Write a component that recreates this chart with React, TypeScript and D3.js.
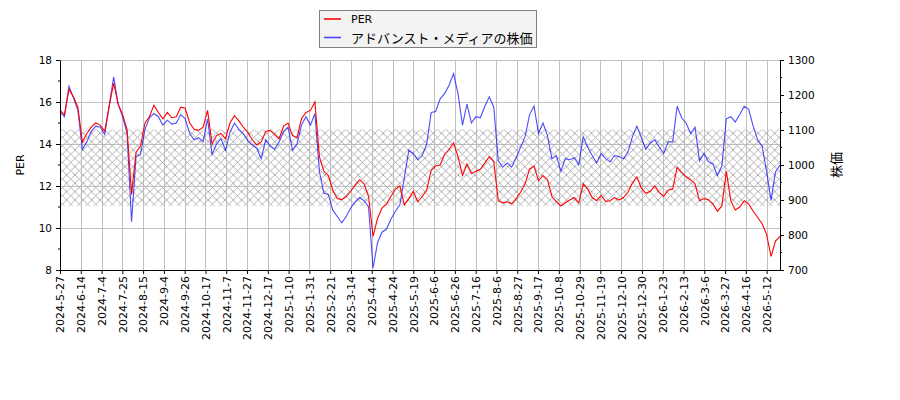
import React, { useEffect, useRef } from 'react';
import * as d3 from 'd3';

// PER, sampled about every 3 trading days
const perValues = [
  15.6, 15.4, 16.6, 16.25, 15.75, 14.1, 14.5, 14.8, 15.0, 14.9,
  14.6, 15.8, 16.9, 15.9, 15.4, 14.7, 11.6, 13.6, 13.9, 15.0,
  15.3, 15.85, 15.5, 15.2, 15.5, 15.25, 15.3, 15.75, 15.7, 15.0,
  14.7, 14.65, 14.8, 15.6, 14.0, 14.4, 14.5, 14.25, 15.0, 15.35,
  15.1, 14.8, 14.55, 14.2, 13.95, 14.1, 14.6, 14.65, 14.45, 14.25,
  14.85, 15.0, 14.4, 14.3, 15.2, 15.5, 15.6, 16.0, 13.4, 12.7,
  12.5, 11.8, 11.4, 11.35, 11.5, 11.75, 12.05, 12.3, 12.1, 11.5,
  9.6, 10.45, 10.95, 11.15, 11.5, 11.85, 12.0, 11.1, 11.4, 11.75,
  11.25, 11.5, 11.8, 12.75, 12.95, 13.0, 13.5, 13.75, 14.05, 13.4,
  12.5, 13.05, 12.6, 12.7, 12.8, 13.1, 13.4, 13.15, 11.3, 11.2,
  11.25, 11.15, 11.4, 11.7, 12.1, 12.8, 12.95, 12.25, 12.5, 12.3,
  11.5, 11.25, 11.05, 11.2, 11.33, 11.45, 11.2, 12.1, 11.85, 11.45,
  11.3, 11.55, 11.27, 11.3, 11.45, 11.33, 11.45, 11.7, 12.15, 12.44,
  11.9, 11.65, 11.75, 12.0, 11.7, 11.5, 11.8, 11.85, 12.9, 12.65,
  12.45, 12.3, 12.1, 11.3, 11.4, 11.35, 11.15, 10.8, 11.05, 12.7,
  11.3, 10.86, 11.0, 11.3, 11.15, 10.8, 10.5, 10.2, 9.7, 8.65,
  9.38, 9.6,
];

// share price (yen), same sampling
const priceValues = [
  1152, 1138, 1225, 1192, 1156, 1045, 1066, 1096, 1111, 1108,
  1087, 1168, 1252, 1174, 1138, 1090, 838, 1024, 1030, 1102,
  1135, 1147, 1138, 1114, 1128, 1117, 1120, 1144, 1132, 1090,
  1072, 1078, 1066, 1132, 1030, 1060, 1075, 1042, 1093, 1120,
  1102, 1090, 1069, 1057, 1048, 1018, 1072, 1054, 1045, 1066,
  1096, 1108, 1042, 1060, 1114, 1138, 1114, 1147, 982, 919,
  916, 871, 853, 835, 853, 877, 895, 907, 898, 880,
  705, 778, 808, 817, 845, 868, 886, 964, 1042, 1033,
  1015, 1027, 1060, 1150, 1153, 1189, 1204, 1228, 1261, 1204,
  1114, 1174, 1120, 1138, 1135, 1168, 1195, 1165, 1012, 994,
  1006, 994, 1021, 1051, 1081, 1144, 1168, 1090, 1120, 1084,
  1018, 1027, 982, 1018, 1015, 1021, 1000, 1081, 1051, 1027,
  1006, 1033, 1018, 1009, 1027, 1024, 1018, 1037, 1081, 1111,
  1078, 1045, 1063, 1072, 1051, 1033, 1066, 1066, 1168, 1135,
  1120, 1090, 1108, 1012, 1033, 1009, 1003, 970, 997, 1132,
  1138, 1123, 1144, 1168, 1159, 1111, 1072, 1054, 982, 898,
  981, 1000,
];

// one label every 14 trading days
const tickLabels = [
  '2024-5-27', '2024-6-14', '2024-7-4', '2024-7-25', '2024-8-15', '2024-9-4',
  '2024-9-26', '2024-10-17', '2024-11-7', '2024-11-27', '2024-12-17',
  '2025-1-10', '2025-1-31', '2025-2-21', '2025-3-14', '2025-4-4', '2025-4-24',
  '2025-5-19', '2025-6-6', '2025-6-26', '2025-7-16', '2025-8-6', '2025-8-27',
  '2025-9-17', '2025-10-8', '2025-10-29', '2025-11-19', '2025-12-10',
  '2025-12-30', '2026-1-23', '2026-2-13', '2026-3-6', '2026-3-27',
  '2026-4-16', '2026-5-12',
];

const perTicks = [8, 10, 12, 14, 16, 18];
const priceTicks = [700, 800, 900, 1000, 1100, 1200, 1300];
const perBand = [11.05, 14.7];

const TRADING_DAYS = 486;
const TICK_EVERY = 14;

const latin = 'DejaVu Sans, sans-serif';
const cjk = "'Noto Sans CJK JP', sans-serif";

const App: React.FC = () => {
  const svgRef = useRef<SVGSVGElement>(null);

  useEffect(() => {
    if (!svgRef.current) return;
    const svg = d3.select(svgRef.current);
    svg.selectAll('*').remove();

    const left = 60, right = 780, top = 60, bottom = 270;

    const x = d3.scaleLinear().domain([0, TRADING_DAYS - 1]).range([left, right]);
    const yPer = d3.scaleLinear().domain([8, 18]).range([bottom, top]);
    const yPrice = d3.scaleLinear().domain([700, 1300]).range([bottom, top]);
    const dayOf = (i: number) => (i * (TRADING_DAYS - 1)) / (perValues.length - 1);
    const tickDays = tickLabels.map((_, k) => k * TICK_EVERY);

    // cross hatch for the PER band
    const defs = svg.append('defs');
    const s = 8.33;
    const pat = defs.append('pattern')
      .attr('id', 'xhatch')
      .attr('patternUnits', 'userSpaceOnUse')
      .attr('width', s)
      .attr('height', s);
    pat.append('path')
      .attr('d', `M0,0L${s},${s}M0,${s}L${s},0`)
      .attr('stroke', '#a8a8a8')
      .attr('stroke-width', 0.9)
      .attr('fill', 'none');

    // grid
    const grid = svg.append('g').attr('shape-rendering', 'crispEdges');
    grid.selectAll('line.v')
      .data(tickDays)
      .join('line')
      .attr('x1', d => Math.round(x(d)) + 0.5)
      .attr('x2', d => Math.round(x(d)) + 0.5)
      .attr('y1', top)
      .attr('y2', bottom)
      .attr('stroke', '#c0c0c0')
      .attr('stroke-width', 1);
    grid.selectAll('line.h')
      .data(perTicks)
      .join('line')
      .attr('x1', left)
      .attr('x2', right)
      .attr('y1', d => Math.round(yPer(d)) + 0.5)
      .attr('y2', d => Math.round(yPer(d)) + 0.5)
      .attr('stroke', '#c0c0c0')
      .attr('stroke-width', 1);

    // hatched band
    svg.append('rect')
      .attr('x', left)
      .attr('y', yPer(perBand[1]))
      .attr('width', right - left)
      .attr('height', yPer(perBand[0]) - yPer(perBand[1]))
      .attr('fill', 'url(#xhatch)');

    // price line (right axis)
    const priceLine = d3.line<number>()
      .x((_, i) => x(dayOf(i)))
      .y(d => yPrice(d));
    svg.append('path')
      .attr('d', priceLine(priceValues) ?? '')
      .attr('fill', 'none')
      .attr('stroke', '#0000ff')
      .attr('stroke-opacity', 0.7)
      .attr('stroke-width', 1.1);

    // PER line (left axis)
    const perLine = d3.line<number>()
      .x((_, i) => x(dayOf(i)))
      .y(d => yPer(d));
    svg.append('path')
      .attr('d', perLine(perValues) ?? '')
      .attr('fill', 'none')
      .attr('stroke', '#ff0000')
      .attr('stroke-width', 1.1);

    // axes
    const leftAxis = svg.append('g')
      .attr('transform', `translate(${left},0)`)
      .call(d3.axisLeft(yPer).tickValues(perTicks).tickSize(4).tickSizeOuter(0).tickPadding(4).tickFormat(d3.format('d')));
    leftAxis.append('g')
      .selectAll('line')
      .data(d3.range(9, 18, 2))
      .join('line')
      .attr('x1', -2).attr('x2', 0)
      .attr('y1', d => yPer(d)).attr('y2', d => yPer(d))
      .attr('stroke', '#000');

    const rightAxis = svg.append('g')
      .attr('transform', `translate(${right},0)`)
      .call(d3.axisRight(yPrice).tickValues(priceTicks).tickSize(4).tickSizeOuter(0).tickPadding(4).tickFormat(d3.format('d')));
    rightAxis.append('g')
      .selectAll('line')
      .data(d3.range(750, 1300, 100))
      .join('line')
      .attr('x1', 0).attr('x2', 2)
      .attr('y1', d => yPrice(d)).attr('y2', d => yPrice(d))
      .attr('stroke', '#000');

    const bottomAxis = svg.append('g')
      .attr('transform', `translate(0,${bottom})`)
      .call(d3.axisBottom(x).tickValues(tickDays).tickSize(4).tickSizeOuter(0)
        .tickFormat((_, i) => tickLabels[i]));
    bottomAxis.selectAll('text')
      .attr('transform', 'rotate(-90)')
      .attr('x', -6)
      .attr('y', 0)
      .attr('dy', '0.35em')
      .attr('text-anchor', 'end')
      .style('font-size', '11px');

    [leftAxis, rightAxis, bottomAxis].forEach(g => {
      g.attr('font-family', latin);
      g.selectAll('.tick text').attr('fill', '#000');
      g.selectAll('.tick line').attr('stroke', '#000');
      g.select('.domain').attr('stroke', '#000');
    });
    leftAxis.selectAll('.tick text').style('font-size', '10.5px');
    rightAxis.selectAll('.tick text').style('font-size', '10.5px');

    // axis titles
    svg.append('text')
      .attr('transform', `translate(20,${(top + bottom) / 2}) rotate(-90)`)
      .attr('text-anchor', 'middle')
      .attr('dominant-baseline', 'central')
      .style('font-family', latin)
      .style('font-size', '11px')
      .text('PER');
    svg.append('text')
      .attr('transform', `translate(835,${(top + bottom) / 2}) rotate(-90)`)
      .attr('text-anchor', 'middle')
      .attr('dominant-baseline', 'central')
      .style('font-family', cjk)
      .style('font-size', '13px')
      .text('株価');

    // legend
    const legend = svg.append('g');
    legend.append('rect')
      .attr('x', 319.5)
      .attr('y', 10.5)
      .attr('width', 217)
      .attr('height', 37)
      .attr('fill', '#f3f3f3')
      .attr('stroke', '#808080')
      .attr('stroke-width', 1);
    const entries = [
      { label: 'PER', color: '#ff0000', opacity: 1, font: latin, size: '11px', y: 19 },
      { label: 'アドバンスト・メディアの株価', color: '#0000ff', opacity: 0.7, font: cjk, size: '13px', y: 37.5 },
    ];
    entries.forEach(e => {
      legend.append('line')
        .attr('x1', 324).attr('x2', 341)
        .attr('y1', e.y).attr('y2', e.y)
        .attr('stroke', e.color)
        .attr('stroke-opacity', e.opacity)
        .attr('stroke-width', 1.6);
      legend.append('text')
        .attr('x', 351)
        .attr('y', e.y)
        .attr('dominant-baseline', 'central')
        .style('font-family', e.font)
        .style('font-size', e.size)
        .text(e.label);
    });
  }, []);

  return (
    <svg
      ref={svgRef}
      width={900}
      height={400}
      style={{ position: 'absolute', left: 0, top: 0, background: '#fff' }}
    />
  );
};

export default App;
